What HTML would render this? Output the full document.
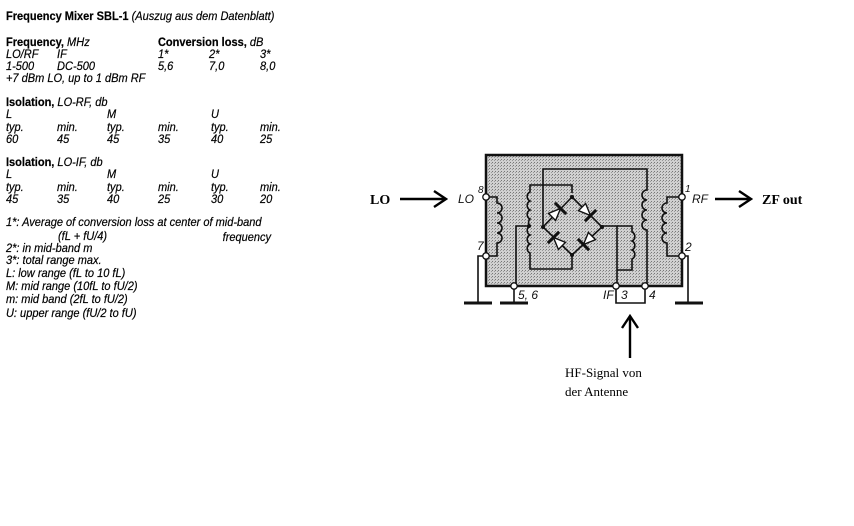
<!DOCTYPE html>
<html><head><meta charset="utf-8"><style>
html,body{margin:0;padding:0;background:#fff;}
svg{display:block;}
text{font-family:"Liberation Sans",sans-serif;}
.t{font-size:12px;font-style:italic;fill:#000;stroke:#000;stroke-width:0.2;}
.b{font-size:12px;font-weight:bold;font-style:normal;fill:#000;}
.s{font-family:"Liberation Serif",serif;font-size:14px;font-weight:bold;fill:#000;}
.h{font-family:"Liberation Serif",serif;font-size:13px;fill:#000;}
.w{fill:none;stroke:#111;stroke-width:1.6;}
.p{font-size:12px;font-style:italic;fill:#111;}
</style></head><body>
<svg width="854" height="526" viewBox="0 0 854 526" xmlns="http://www.w3.org/2000/svg">
<defs>
<pattern id="dots" width="3" height="3" patternUnits="userSpaceOnUse">
<rect width="3" height="3" fill="#d0d0d0"/><rect width="1" height="1" fill="#777"/><rect x="2" y="1" width="1" height="1" fill="#999"/>
</pattern>
<marker id="ah" markerWidth="16" markerHeight="18" refX="14" refY="9" orient="auto" markerUnits="userSpaceOnUse">
<path d="M2,1 L14,9 L2,17" fill="none" stroke="#000" stroke-width="2.4"/>
</marker>
</defs>
<g transform="scale(0.92,1)">
<text x="6.5" y="20" class="t"><tspan class="b">Frequency Mixer SBL-1</tspan> (Auszug aus dem Datenblatt)</text>
<text x="6.5" y="46" class="t"><tspan class="b">Frequency,</tspan> MHz</text>
<text x="171.7" y="46" class="t"><tspan class="b">Conversion loss,</tspan> dB</text>
<text x="6.5" y="58" class="t">LO/RF</text><text x="62" y="58" class="t">IF</text>
<text x="171.7" y="58" class="t">1*</text><text x="227.2" y="58" class="t">2*</text><text x="282.6" y="58" class="t">3*</text>
<text x="6.5" y="70" class="t">1-500</text><text x="62" y="70" class="t">DC-500</text>
<text x="171.7" y="70" class="t">5,6</text><text x="227.2" y="70" class="t">7,0</text><text x="282.6" y="70" class="t">8,0</text>
<text x="6.5" y="82" class="t">+7 dBm LO, up to 1 dBm RF</text>
<text x="6.5" y="106" class="t"><tspan class="b">Isolation,</tspan> LO-RF, db</text>
<text x="6.5" y="118" class="t">L</text><text x="116.3" y="118" class="t">M</text><text x="229.3" y="118" class="t">U</text>
<text x="6.5" y="131" class="t">typ.</text><text x="62" y="131" class="t">min.</text><text x="116.3" y="131" class="t">typ.</text><text x="171.7" y="131" class="t">min.</text><text x="229.3" y="131" class="t">typ.</text><text x="282.6" y="131" class="t">min.</text>
<text x="6.5" y="143" class="t">60</text><text x="62" y="143" class="t">45</text><text x="116.3" y="143" class="t">45</text><text x="171.7" y="143" class="t">35</text><text x="229.3" y="143" class="t">40</text><text x="282.6" y="143" class="t">25</text>
<text x="6.5" y="166" class="t"><tspan class="b">Isolation,</tspan> LO-IF, db</text>
<text x="6.5" y="178" class="t">L</text><text x="116.3" y="178" class="t">M</text><text x="229.3" y="178" class="t">U</text>
<text x="6.5" y="191" class="t">typ.</text><text x="62" y="191" class="t">min.</text><text x="116.3" y="191" class="t">typ.</text><text x="171.7" y="191" class="t">min.</text><text x="229.3" y="191" class="t">typ.</text><text x="282.6" y="191" class="t">min.</text>
<text x="6.5" y="203" class="t">45</text><text x="62" y="203" class="t">35</text><text x="116.3" y="203" class="t">40</text><text x="171.7" y="203" class="t">25</text><text x="229.3" y="203" class="t">30</text><text x="282.6" y="203" class="t">20</text>
<text x="6.5" y="226" class="t">1*: Average of conversion loss at center of mid-band</text>
<text x="63" y="240" class="t">(fL + fU/4)</text><text x="242" y="241" class="t">frequency</text>
<text x="6.5" y="252" class="t">2*: in mid-band m</text>
<text x="6.5" y="264" class="t">3*: total range max.</text>
<text x="6.5" y="277" class="t">L: low range (fL to 10 fL)</text>
<text x="6.5" y="290" class="t">M: mid range (10fL to fU/2)</text>
<text x="6.5" y="303" class="t">m: mid band (2fL to fU/2)</text>
<text x="6.5" y="317" class="t">U: upper range (fU/2 to fU)</text>
</g>

<rect x="486" y="155" width="196" height="131" fill="url(#dots)" stroke="#111" stroke-width="2.5"/>

<path class="w" d="M486,197 H497 V203 a5,5 0 0 1 0,10 a5,5 0 0 1 0,10 a5,5 0 0 1 0,10 a5,5 0 0 1 0,10 V256 H486"/>
<path class="w" d="M572,193 V185 H530 V192 a5,5 0 0 0 0,9 a5,5 0 0 0 0,9 a5,5 0 0 0 0,9 a5,5 0 0 0 0,7 a5,5 0 0 0 0,9 a5,5 0 0 0 0,9 a5,5 0 0 0 0,9 V269 H572 V256"/>
<path class="w" d="M529,226 H516 V286"/>
<circle cx="529" cy="226" r="2" fill="#111"/>
<path class="w" d="M543,226 V169 H647 V190 a5,5 0 0 0 0,10 a5,5 0 0 0 0,10 a5,5 0 0 0 0,10 a5,5 0 0 0 0,10 V286"/>
<path class="w" d="M602,226 H617 V286"/>
<path class="w" d="M617,226 H632 V232 a5,5 0 0 1 0,9 a5,5 0 0 1 0,9 a5,5 0 0 1 0,9 V270 H617"/>
<path class="w" d="M682,197 H667 V203 a5,5 0 0 0 0,10 a5,5 0 0 0 0,10 a5,5 0 0 0 0,10 a5,5 0 0 0 0,10 V256 H682"/>
<path class="w" d="M572,197 L602,227 L572,255 L543,227 Z"/>
<g fill="#fff" stroke="#111" stroke-width="1.4">
<g transform="translate(557,212) rotate(-45)"><path d="M-7,-5 L-7,5 L5,0 Z"/><line x1="5" y1="-8" x2="5" y2="8" stroke-width="3"/></g>
<g transform="translate(587,212) rotate(45)"><path d="M-7,-5 L-7,5 L5,0 Z"/><line x1="5" y1="-8" x2="5" y2="8" stroke-width="3"/></g>
<g transform="translate(587,241) rotate(-225)"><path d="M-7,-5 L-7,5 L5,0 Z"/><line x1="5" y1="-8" x2="5" y2="8" stroke-width="3"/></g>
<g transform="translate(557,241) rotate(-135)"><path d="M-7,-5 L-7,5 L5,0 Z"/><line x1="5" y1="-8" x2="5" y2="8" stroke-width="3"/></g>
</g>
<g fill="#111"><circle cx="572" cy="197" r="2"/><circle cx="602" cy="227" r="2"/><circle cx="572" cy="255" r="2"/><circle cx="543" cy="227" r="2"/></g>
<path class="w" d="M486,256 H478 V303"/>
<line x1="464" y1="303" x2="492" y2="303" stroke="#111" stroke-width="3"/>
<path class="w" d="M514,286 V303"/>
<line x1="500" y1="303" x2="528" y2="303" stroke="#111" stroke-width="3"/>
<path class="w" d="M682,256 H688 V303"/>
<line x1="675" y1="303" x2="703" y2="303" stroke="#111" stroke-width="3"/>
<path class="w" d="M616,286 V303 H645 V286"/>
<g fill="#fff" stroke="#111" stroke-width="1.3">
<circle cx="486" cy="197" r="3.2"/><circle cx="486" cy="256" r="3.2"/>
<circle cx="682" cy="197" r="3.2"/><circle cx="682" cy="256" r="3.2"/>
<circle cx="514" cy="286" r="3.2"/><circle cx="616" cy="286" r="3.2"/><circle cx="645" cy="286" r="3.2"/>
</g>
<text x="458" y="203" class="p">LO</text><text x="478" y="193" class="p" style="font-size:10px">8</text>
<text x="477" y="250" class="p">7</text>
<text x="685" y="192" class="p" style="font-size:10px">1</text><text x="692" y="203" class="p">RF</text>
<text x="685" y="251" class="p">2</text>
<text x="518" y="299" class="p">5, 6</text>
<text x="603" y="299" class="p">IF</text><text x="621" y="299" class="p">3</text><text x="649" y="299" class="p">4</text>
<text x="370" y="204" class="s">LO</text>
<line x1="400" y1="199" x2="446" y2="199" stroke="#000" stroke-width="2.4" marker-end="url(#ah)"/>
<line x1="715" y1="199" x2="751" y2="199" stroke="#000" stroke-width="2.4" marker-end="url(#ah)"/>
<text x="762" y="204" class="s">ZF out</text>
<line x1="630" y1="358" x2="630" y2="316" stroke="#000" stroke-width="2.4" marker-end="url(#ah)"/>
<text x="565" y="377" class="h">HF-Signal von</text>
<text x="565" y="396" class="h">der Antenne</text>
</svg>
</body></html>
